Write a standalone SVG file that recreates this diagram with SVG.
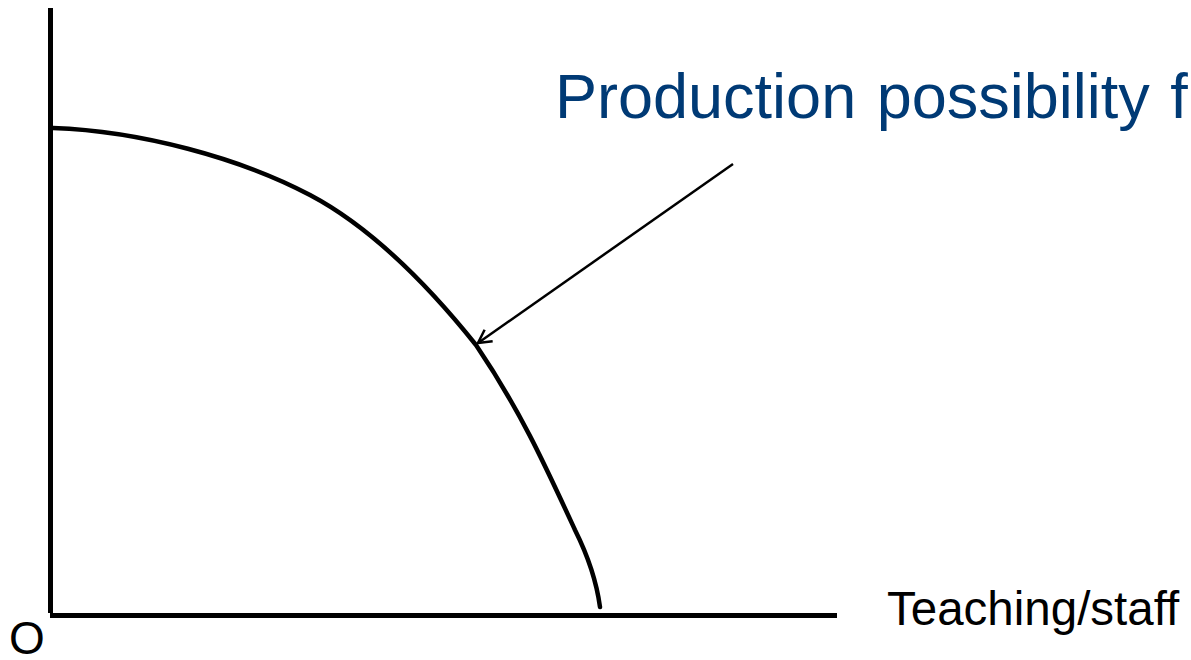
<svg xmlns="http://www.w3.org/2000/svg" width="1191" height="660" viewBox="0 0 1191 660">
<defs>
<style>
.axis{stroke:#000;stroke-width:5;fill:none}
.curve{stroke:#000;stroke-width:4.5;fill:none;stroke-linecap:round}
.lbl{font-family:"Liberation Sans",Arial,sans-serif;fill:#000}
.title{font-family:"Liberation Sans",Arial,sans-serif;fill:#003A75}
</style>
<marker id="open" markerWidth="16" markerHeight="16" refX="14" refY="8" orient="auto" markerUnits="userSpaceOnUse" viewBox="0 0 16 16">
<path d="M1,1 L14,8 L1,15" fill="none" stroke="#000" stroke-width="2.5"/>
</marker>
</defs>
<rect width="1191" height="660" fill="#fff"/>
<g id="axes">
<line class="axis" x1="50.5" y1="8" x2="50.5" y2="613"/>
<line class="axis" x1="50" y1="615.5" x2="837" y2="615.5"/>
</g>
<g id="ppf">
<path class="curve" d="M53,128 C140,131 240,158 310,195 C380,232 440,300 476,345 C520,410 545,465 575,530 C590,560 597,585 600,607"/>
</g>
<g id="connectors">
<line x1="733" y1="164" x2="478" y2="343" stroke="#000" stroke-width="2.5" marker-end="url(#open)"/>
</g>
<g id="label-title">
<text class="title" x="555" y="118" font-size="63" word-spacing="3">Production possibility f</text>
</g>
<g id="label-x">
<text class="lbl" x="887" y="625" font-size="47.5">Teaching/staff</text>
</g>
<g id="label-origin">
<text class="lbl" x="9" y="654" font-size="46">O</text>
</g>
</svg>
